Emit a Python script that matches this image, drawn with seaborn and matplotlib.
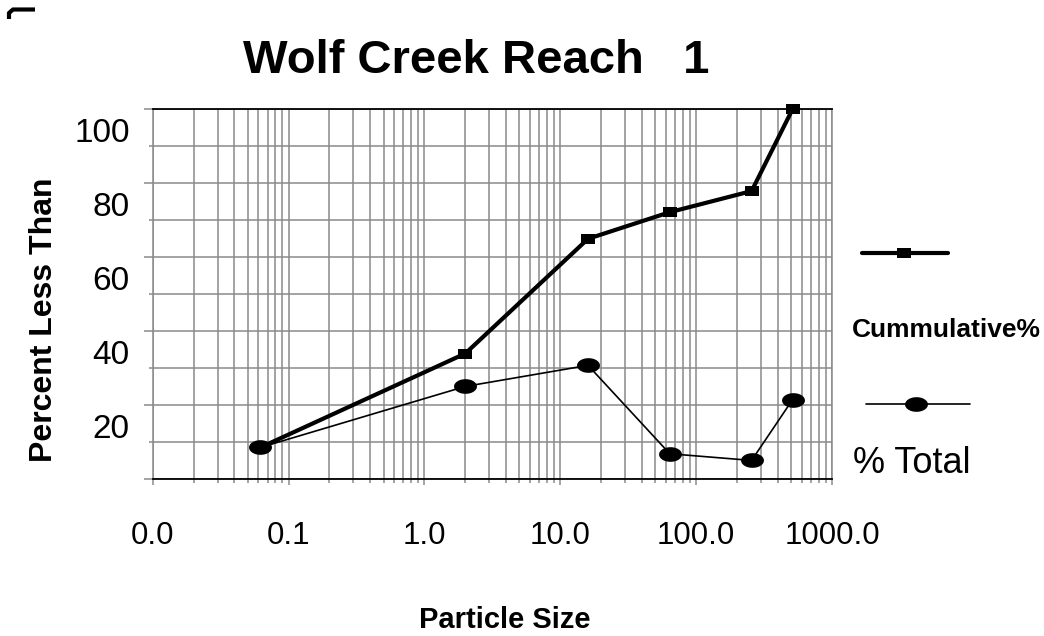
import numpy as np
import matplotlib
matplotlib.use('Agg')
import matplotlib.pyplot as plt
import matplotlib.transforms as mtransforms
from matplotlib.path import Path
from matplotlib.lines import Line2D
from matplotlib.ticker import LogLocator, NullFormatter, MultipleLocator
import seaborn as sns

# sieve classes (mm) and percentages
particle_size = [0.062, 2, 16, 64, 256, 512]
cumulative = [8.6, 34.0, 65.0, 72.2, 77.9, 100.0]
pct_total = [8.6, 25.1, 30.8, 6.9, 5.1, 21.5]

x_ticks = [0.01, 0.1, 1, 10, 100, 1000]
x_ticklabels = ['0.0', '0.1', '1.0', '10.0', '100.0', '1000.0']
y_ticks = [0, 20, 40, 60, 80, 100]
y_ticklabels = ['', '20', '40', '60', '80', '100']

W, H = 1044, 636
GRID = '#8a8a8a'

sns.set_style('white')
plt.rcParams['font.family'] = ['Liberation Sans', 'DejaVu Sans']
plt.rcParams['text.color'] = 'black'

fig = plt.figure(figsize=(W / 100, H / 100), dpi=100)
ax = fig.add_axes([152.7 / W, 1 - 479.3 / H, (832 - 152.7) / W, (479.3 - 109.3) / H])


def fx(px):
    return px / W


def fy(py):
    return 1 - py / H


# marker shapes: flat rectangle and wide ellipse
t = np.linspace(0, 2 * np.pi, 60)
ellipse = Path(np.column_stack([np.cos(t), 0.64 * np.sin(t)]), closed=True)
rect = Path([(-1, -0.64), (1, -0.64), (1, 0.64), (-1, 0.64), (-1, -0.64)], closed=True)

sns.lineplot(x=particle_size, y=cumulative, ax=ax, color='black', lw=3,
             marker=rect, markersize=10.5, mew=0, estimator=None, sort=False,
             zorder=3, clip_on=False)
sns.lineplot(x=particle_size, y=pct_total, ax=ax, color='black', lw=1.2,
             marker=ellipse, markersize=16.5, mew=0, estimator=None, sort=False,
             zorder=4, clip_on=False)

ax.set_xscale('log')
ax.set_xlim(0.01, 1000)
ax.set_ylim(0, 100)
ax.set_xticks(x_ticks, x_ticklabels)
ax.xaxis.set_minor_locator(LogLocator(base=10, subs=np.arange(2, 10)))
ax.xaxis.set_minor_formatter(NullFormatter())
ax.set_yticks(y_ticks, y_ticklabels)
ax.yaxis.set_minor_locator(MultipleLocator(10))
ax.set_xlabel('')
ax.set_ylabel('')

ax.set_axisbelow(True)
ax.grid(which='both', color=GRID, lw=1.1)
ax.tick_params(axis='both', which='both', direction='out', color=GRID, width=1.1,
               bottom=True, left=True, labelcolor='black')
ax.tick_params(axis='y', which='major', length=6.5, labelsize=24, pad=10)
ax.tick_params(axis='y', which='minor', length=3)
ax.tick_params(axis='x', which='major', length=4.3, labelsize=22.5, pad=26)
ax.tick_params(axis='x', which='minor', length=3)

# y labels sit about half a grid step below their lines
shift = mtransforms.ScaledTranslation(0, -0.21, fig.dpi_scale_trans)
for lbl in ax.get_yticklabels():
    lbl.set_transform(lbl.get_transform() + shift)

for side in ['top', 'bottom']:
    ax.spines[side].set_color('black')
    ax.spines[side].set_linewidth(1.3)
for side in ['left', 'right']:
    ax.spines[side].set_color(GRID)
    ax.spines[side].set_linewidth(1.1)
    ax.spines[side].set_visible(True)
ax.spines['top'].set_visible(True)

fig.text(fx(476), fy(73), 'Wolf Creek Reach   1', ha='center', va='baseline',
         fontsize=34, fontweight='bold')
fig.text(fx(505), fy(628), 'Particle Size', ha='center', va='baseline',
         fontsize=21, fontweight='bold')
fig.text(fx(52), fy(320), 'Percent Less Than', ha='center', va='baseline',
         rotation=90, rotation_mode='anchor', fontsize=23, fontweight='bold')

# legend on the right, label below each handle
fig.add_artist(Line2D([fx(862), fx(948)], [fy(253), fy(253)], color='black', lw=3,
                      transform=fig.transFigure))
fig.add_artist(Line2D([fx(904)], [fy(253)], color='black', marker=rect, markersize=10.5,
                      mew=0, transform=fig.transFigure))
fig.text(fx(852), fy(337), 'Cummulative%', ha='left', va='baseline',
         fontsize=19, fontweight='bold')
fig.add_artist(Line2D([fx(866), fx(970)], [fy(404), fy(404)], color='black', lw=1.2,
                      transform=fig.transFigure))
fig.add_artist(Line2D([fx(916)], [fy(404)], color='black', marker=ellipse, markersize=16.5,
                      mew=0, transform=fig.transFigure))
fig.text(fx(853), fy(473), '% Total', ha='left', va='baseline', fontsize=26)

# small bracket mark in the top-left corner
fig.add_artist(Line2D([fx(9), fx(9), fx(13), fx(35)], [fy(19), fy(13), fy(9.5), fy(9.5)],
                      color='black', lw=3, solid_joinstyle='round', solid_capstyle='butt',
                      transform=fig.transFigure))

fig.savefig('out.png', dpi=100)
